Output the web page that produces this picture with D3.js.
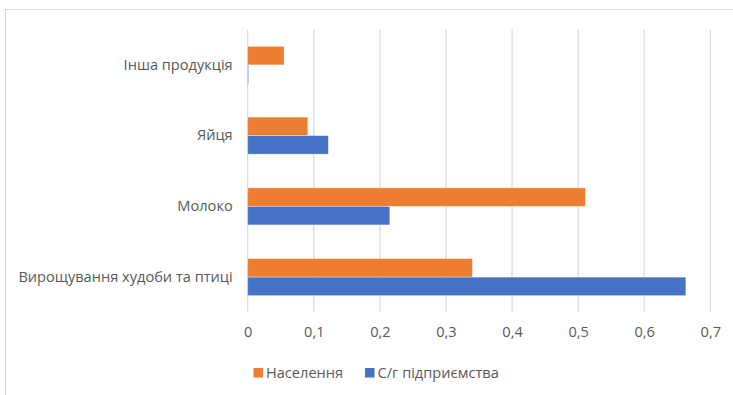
<!DOCTYPE html>
<html>
<head>
<meta charset="utf-8">
<script src="https://cdn.jsdelivr.net/npm/d3@7"></script>
<style>
  html, body { margin: 0; padding: 0; background: #fff; }
  svg { display: block; font-family: "Open Sans", "Noto Sans", sans-serif; }
</style>
</head>
<body>
<svg id="chart" width="733" height="395"></svg>
<script>
// Categories, top to bottom
const categories = ["Інша продукція", "Яйця", "Молоко", "Вирощування худоби та птиці"];
// Series values per category
const population = [0.055, 0.091, 0.511, 0.340];      // Населення
const enterprises = [0.001, 0.122, 0.215, 0.663];     // С/г підприємства
const seriesNames = ["Населення", "С/г підприємства"];
const seriesColors = ["#ED7D31", "#4472C4"];
const tickValues = [0, 0.1, 0.2, 0.3, 0.4, 0.5, 0.6, 0.7];

const svg = d3.select("#chart");
const W = 733, H = 395;
const plot = { left: 247.7, right: 710.3, top: 29.5, bottom: 312.5 };
const textColor = "#595959";
const fontSize = 14.6;
const fontFamily = '"Open Sans", "Noto Sans", sans-serif';

// Chart frame
svg.append("rect")
  .attr("x", 5.5).attr("y", 9.5)
  .attr("width", W + 10).attr("height", H + 10)
  .attr("fill", "#fff").attr("stroke", "#d9d9d9").attr("stroke-width", 1);

const x = d3.scaleLinear().domain([0, 0.7]).range([plot.left, plot.right]);
const y = d3.scaleBand().domain(categories).range([plot.top, plot.bottom]).paddingInner(0).paddingOuter(0);
const inner = d3.scaleBand().domain([0, 1]).range([0, y.bandwidth()]).paddingInner(0).paddingOuter(0.91);

// Vertical gridlines
svg.append("g").selectAll("line").data(tickValues).join("line")
  .attr("x1", d => x(d)).attr("x2", d => x(d))
  .attr("y1", plot.top).attr("y2", plot.bottom)
  .attr("stroke", "#d9d9d9").attr("stroke-width", 1.2);

// Bars
const rows = categories.map((c, i) => ({ c, vals: [population[i], enterprises[i]] }));
const g = svg.append("g");
rows.forEach(r => {
  r.vals.forEach((v, s) => {
    g.append("rect")
      .attr("x", x(0))
      .attr("y", y(r.c) + inner(s))
      .attr("width", Math.max(0.8, x(v) - x(0)))
      .attr("height", inner.bandwidth())
      .attr("fill", seriesColors[s])
      .attr("stroke", "#ffffff").attr("stroke-opacity", 0.45).attr("stroke-width", 0.8);
  });
});

// X axis (values with comma decimal)
const fmt = v => (v === 0 ? "0" : d3.format(".1f")(v).replace(".", ","));
const xAxis = svg.append("g")
  .attr("transform", `translate(0,${plot.bottom})`)
  .call(d3.axisBottom(x).tickValues(tickValues).tickFormat(fmt).tickSize(0).tickPadding(14));
xAxis.select(".domain").remove();
xAxis.selectAll("text").attr("fill", textColor).style("font-size", fontSize + "px")
  .style("font-family", fontFamily);

// Category axis
const yAxis = svg.append("g")
  .attr("transform", `translate(${plot.left},0)`)
  .call(d3.axisLeft(y).tickSize(0).tickPadding(15));
yAxis.select(".domain").remove();
yAxis.selectAll("text").attr("fill", textColor).style("font-size", fontSize + "px")
  .style("font-family", fontFamily);

// Legend
const legendItems = [
  { name: seriesNames[0], color: seriesColors[0], x: 253.5 },
  { name: seriesNames[1], color: seriesColors[1], x: 365 }
];
const lg = svg.append("g");
legendItems.forEach(it => {
  lg.append("rect").attr("x", it.x).attr("y", 368).attr("width", 9.5).attr("height", 9.5).attr("fill", it.color);
  lg.append("text").attr("x", it.x + 12.5).attr("y", 373).attr("dy", "0.35em")
    .attr("fill", textColor).style("font-size", fontSize + "px").text(it.name);
});
</script>
</body>
</html>
